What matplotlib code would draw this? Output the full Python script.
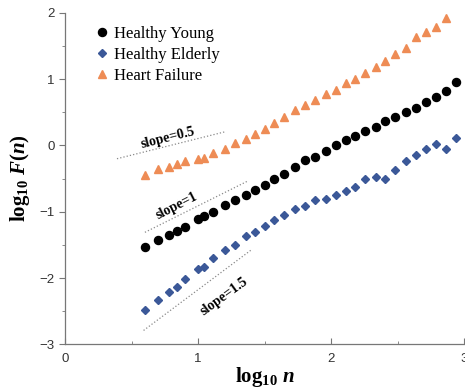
import numpy as np
import matplotlib
matplotlib.use("Agg")
import matplotlib.pyplot as plt

plt.rcParams["mathtext.fontset"] = "custom"
plt.rcParams["mathtext.rm"] = "Liberation Serif:bold"
plt.rcParams["mathtext.it"] = "Liberation Serif:bold:italic"
plt.rcParams["mathtext.bf"] = "Liberation Serif:bold"

# box sizes n (same for every group)
n = [4, 5, 6, 7, 8, 10, 11, 13, 16, 19, 23, 27, 32, 37, 44, 54,
     64, 76, 91, 109, 130, 152, 181, 218, 256, 300, 366, 436, 518, 615, 733, 871]

young = [-1.53, -1.43, -1.35, -1.29, -1.23, -1.11, -1.06, -1.01, -0.90, -0.83,
         -0.74, -0.67, -0.60, -0.51, -0.43, -0.33, -0.22, -0.17, -0.08, 0.00,
         0.09, 0.15, 0.22, 0.28, 0.37, 0.43, 0.51, 0.56, 0.66, 0.73, 0.82, 0.95]

elderly = [-2.48, -2.33, -2.21, -2.13, -2.02, -1.87, -1.84, -1.70, -1.58, -1.50,
           -1.37, -1.30, -1.21, -1.13, -1.05, -0.96, -0.91, -0.82, -0.80, -0.74,
           -0.69, -0.63, -0.51, -0.47, -0.50, -0.37, -0.24, -0.14, -0.06, 0.02,
           -0.05, 0.12]

# heart failure has one point less (last box size missing)
failure = [-0.45, -0.36, -0.32, -0.28, -0.24, -0.20, -0.19, -0.11, -0.05, 0.03,
           0.10, 0.18, 0.25, 0.34, 0.43, 0.53, 0.61, 0.69, 0.77, 0.84,
           0.94, 1.01, 1.09, 1.19, 1.28, 1.38, 1.47, 1.63, 1.71, 1.78, 1.92]

# reference slopes: (slope, x start, x end, y start, label x, label y, angle)
guides = [
    (0.5, 0.39, 1.20, -0.20, 0.77, 0.12, 14),
    (1.0, 0.60, 1.37, -1.31, 0.84, -0.92, 27),
    (1.5, 0.59, 1.40, -2.79, 1.20, -2.28, 36),
]

logn = np.log10(n)

fig = plt.figure(figsize=(4.65, 3.9), dpi=100)
ax = fig.add_axes([0.14, 0.117, 0.858, 0.85])

ax.plot(logn, young, "o", color="black", markersize=5.8, label="Healthy Young")
ax.plot(logn, elderly, "D", color="#3b5898", markersize=4.3, label="Healthy Elderly")
ax.plot(logn[:len(failure)], failure, "^", color="#ee8c55", markersize=6.3,
        label="Heart Failure")

for s, x0, x1, y0, tx, ty, ang in guides:
    ax.plot([x0, x1], [y0, y0 + s * (x1 - x0)], ":", color="#8a8a8a", lw=0.9)
    ax.text(tx, ty, "slope=%g" % s, family="Liberation Serif", fontweight="bold",
            fontsize=10, rotation=ang, ha="center", va="center")

ax.set_xlim(0, 3)
ax.set_ylim(-3, 2)
ax.set_xticks([0, 1, 2, 3])
ax.set_xticks([0.5, 1.5, 2.5], minor=True)
ax.set_yticks([-3, -2, -1, 0, 1, 2])
ax.set_yticks([-2.5, -1.5, -0.5, 0.5, 1.5], minor=True)

for side in ["top", "right"]:
    ax.spines[side].set_visible(False)
for side in ["left", "bottom"]:
    ax.spines[side].set_color("#777777")
    ax.spines[side].set_linewidth(0.9)

ax.tick_params(axis="x", which="both", direction="in", colors="#777777",
               labelcolor="#333333", labelsize=9.5, pad=6)
ax.tick_params(axis="y", which="both", direction="out", colors="#777777",
               labelcolor="#333333", labelsize=9.5)
ax.tick_params(which="major", length=4)
ax.tick_params(which="minor", length=2.5)
for lab in ax.get_xticklabels() + ax.get_yticklabels():
    lab.set_family("Liberation Sans")

ax.set_xlabel(r"log$_{10}$ $n$", family="Liberation Serif", fontweight="bold",
              fontsize=15, labelpad=0)
ax.set_ylabel(r"log$_{10}$ $F(n)$", family="Liberation Serif", fontweight="bold",
              fontsize=15, labelpad=5)

ax.legend(loc="upper left", bbox_to_anchor=(0.06, 0.985), frameon=False,
          prop={"family": "Liberation Serif", "size": 12},
          handlelength=0.6, handletextpad=0.4, labelspacing=0.3,
          borderaxespad=0.1)

fig.savefig("out.png", dpi=100)
